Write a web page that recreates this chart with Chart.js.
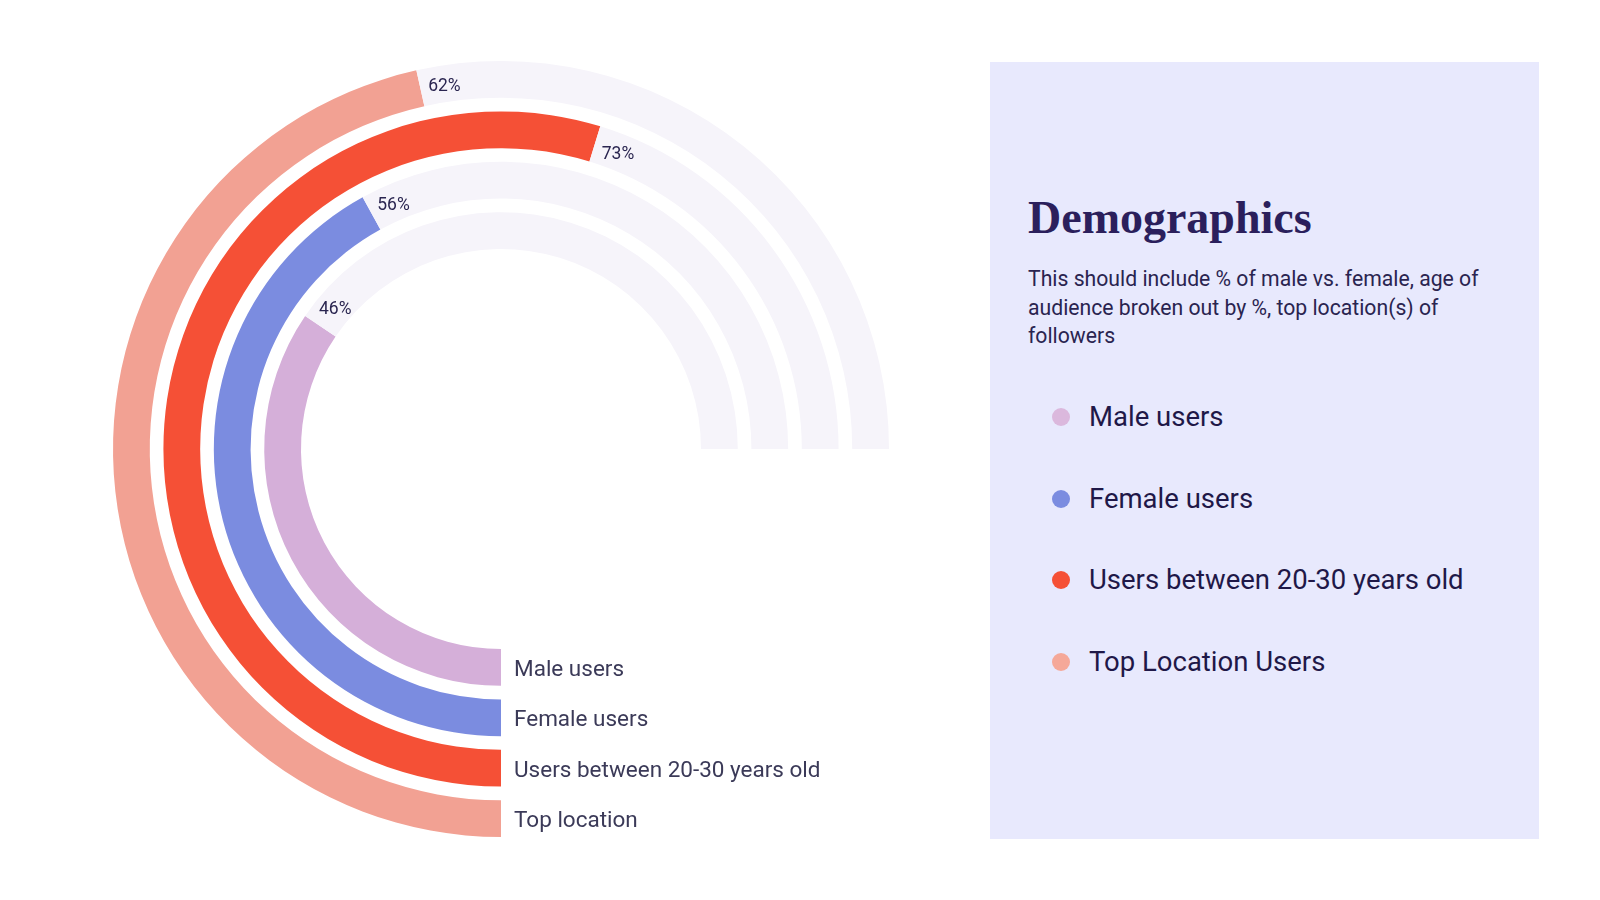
<!DOCTYPE html>
<html>
<head>
<meta charset="utf-8">
<script src="https://cdn.jsdelivr.net/npm/chart.js@4.4.1/dist/chart.umd.min.js"></script>
<style>
  html, body { margin: 0; padding: 0; background: #ffffff; }
  body { width: 1600px; height: 900px; position: relative; overflow: hidden; font-family: Roboto, "Noto Sans", sans-serif; }
  #panel { position: absolute; left: 990px; top: 62px; width: 549px; height: 777px; background: #e8e9fd; }
  #title { position: absolute; left: 38px; top: 129px; font-family: "Liberation Serif", "DejaVu Serif", serif; font-weight: 900; font-size: 46px; color: #2b1f5c; white-space: nowrap; }
  #desc { position: absolute; left: 38px; top: 203px; width: 468px; font-size: 21.2px; line-height: 28.6px; color: #2a2450; }
  #legend { position: absolute; left: 62px; top: 334px; }
  .item { position: relative; height: 81.6px; font-size: 27.5px; color: #1f1848; }
  .dot { position: absolute; left: 0; top: 12px; width: 18px; height: 18px; border-radius: 50%; }
  .lab { position: absolute; left: 37px; top: 0; line-height: 42px; white-space: nowrap; }
  #wrap { position: absolute; left: 0; top: 0; width: 1600px; height: 900px; }
</style>
</head>
<body>
<div id="panel">
  <div id="title">Demographics</div>
  <div id="desc">This should include % of male vs. female, age of audience broken out by %, top location(s) of followers</div>
  <div id="legend"></div>
</div>
<div id="wrap"><canvas id="c"></canvas></div>
<script>
// Data (outermost ring first)
const categories = ["Top location", "Users between 20-30 years old", "Female users", "Male users"];
const values = [62, 73, 56, 46];
const colors = ["#f2a193", "#f55036", "#7b8ce0", "#d5afd9"];
const legendLabels = ["Male users", "Female users", "Users between 20-30 years old", "Top Location Users"];
const legendColors = ["#dbb8dd", "#7b8ce0", "#f55036", "#f5a899"];
const trackColor = "#f6f4fa";

// HTML legend
const lg = document.getElementById('legend');
legendLabels.forEach((t, i) => {
  const d = document.createElement('div');
  d.className = 'item';
  d.innerHTML = '<span class="dot" style="background:' + legendColors[i] + '"></span><span class="lab">' + t + '</span>';
  lg.appendChild(d);
});

const RING = 36.7, GAP = 13.6;
const datasets = [];
categories.forEach((cat, i) => {
  if (i > 0) {
    datasets.push({ label: '', data: [100], backgroundColor: ['rgba(0,0,0,0)'], borderWidth: 0, weight: GAP, spacer: true });
  }
  datasets.push({
    label: cat,
    data: [values[i], 100 - values[i]],
    backgroundColor: [colors[i], trackColor],
    borderWidth: 0,
    weight: RING,
    catIndex: i
  });
});

const labelPlugin = {
  id: 'ringLabels',
  afterDatasetsDraw(chart) {
    const ctx = chart.ctx;
    chart.data.datasets.forEach((ds, di) => {
      if (ds.spacer) return;
      const arc = chart.getDatasetMeta(di).data[0];
      const p = arc.getProps(['x', 'y', 'startAngle', 'endAngle', 'innerRadius', 'outerRadius'], true);
      const midR = (p.innerRadius + p.outerRadius) / 2;
      const a = p.endAngle + 24.5 / midR;
      ctx.save();
      ctx.font = '17.5px Roboto, "Noto Sans", sans-serif';
      ctx.fillStyle = '#2a2550';
      ctx.textAlign = 'center';
      ctx.textBaseline = 'middle';
      ctx.fillText(values[ds.catIndex] + '%', p.x + Math.cos(a) * midR, p.y + Math.sin(a) * midR + 3);
      ctx.font = '22.5px Roboto, "Noto Sans", sans-serif';
      ctx.fillStyle = '#3b3a58';
      ctx.textAlign = 'left';
      ctx.fillText(categories[ds.catIndex], p.x + 13, p.y + Math.sin(p.startAngle) * midR + 3);
      ctx.restore();
    });
  }
};

new Chart(document.getElementById('c'), {
  type: 'doughnut',
  data: { labels: ['value', 'rest'], datasets: datasets },
  options: {
    responsive: true,
    maintainAspectRatio: false,
    animation: false,
    events: [],
    rotation: 180,
    circumference: 270,
    cutout: 200,
    layout: { padding: { left: 113, top: 61, right: 711, bottom: 63 } },
    plugins: { legend: { display: false }, tooltip: { enabled: false } }
  },
  plugins: [labelPlugin]
});
</script>
</body>
</html>
